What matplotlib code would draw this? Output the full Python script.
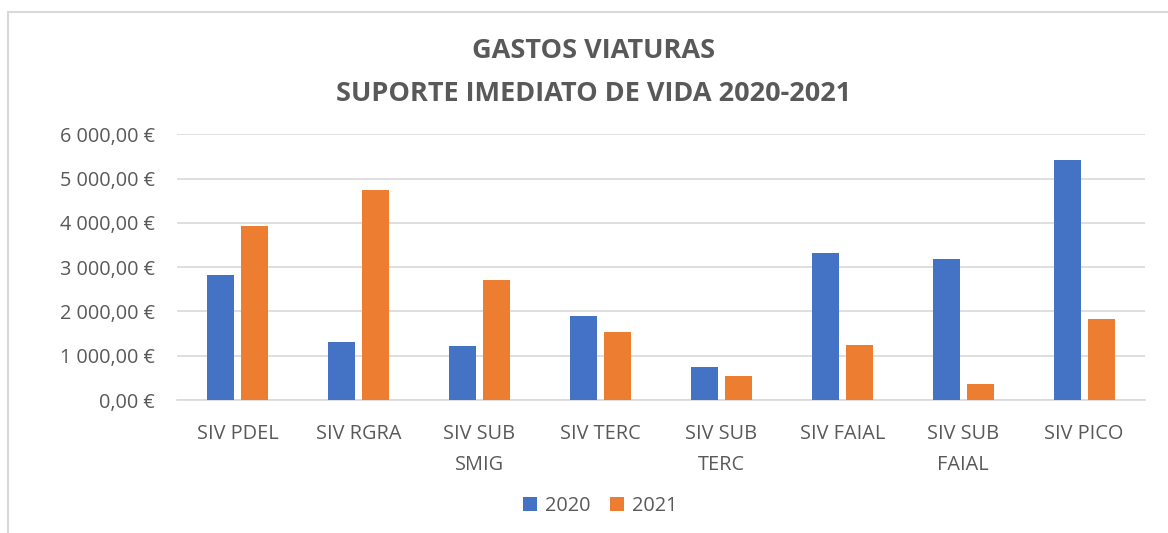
import numpy as np
import matplotlib.pyplot as plt
from matplotlib.patches import Rectangle
from matplotlib.ticker import FuncFormatter

plt.rcParams['font.family'] = ['Open Sans', 'DejaVu Sans']

# dados
categorias = ['SIV PDEL', 'SIV RGRA', 'SIV SUB\nSMIG', 'SIV TERC', 'SIV SUB\nTERC',
              'SIV FAIAL', 'SIV SUB\nFAIAL', 'SIV PICO']
gastos_2020 = [2820, 1300, 1210, 1890, 750, 3330, 3180, 5410]
gastos_2021 = [3940, 4740, 2720, 1530, 540, 1240, 355, 1820]
anos = ['2020', '2021']

azul = '#4472C4'
laranja = '#ED7D31'
cinza = '#595959'

fig = plt.figure(figsize=(11.68, 5.33), dpi=100)
ax = fig.add_axes([0.1515, 0.2495, 0.8285, 0.4985])

x = np.arange(len(categorias))
ax.bar(x - 0.14, gastos_2020, 0.223, color=azul, label=anos[0], zorder=3)
ax.bar(x + 0.14, gastos_2021, 0.223, color=laranja, label=anos[1], zorder=3)

ax.set_xlim(-0.5, len(categorias) - 0.5)
ax.set_ylim(0, 6000)
ax.set_yticks(np.arange(0, 6001, 1000))

def euro(v, pos):
    inteiro = f'{int(v):,}'.replace(',', ' ')
    return f'{inteiro},00 €'

ax.yaxis.set_major_formatter(FuncFormatter(euro))
ax.set_xticks(x)
ax.set_xticklabels(categorias, linespacing=1.75)
ax.grid(axis='y', color='#d9d9d9', linewidth=1.2, zorder=0)
for s in ['top', 'right', 'left']:
    ax.spines[s].set_visible(False)
ax.spines['bottom'].set_color('#d9d9d9')
ax.spines['bottom'].set_linewidth(1.2)
ax.tick_params(axis='both', length=0, colors=cinza, labelsize=14.3)
ax.tick_params(axis='x', pad=17)
ax.tick_params(axis='y', pad=16)

fig.text(0.508, 1 - 51 / 533, 'GASTOS VIATURAS', ha='center', va='center',
         fontsize=19.5, fontweight='bold', color=cinza)
fig.text(0.508, 1 - 94 / 533, 'SUPORTE IMEDIATO DE VIDA 2020-2021', ha='center', va='center',
         fontsize=19.5, fontweight='bold', color=cinza)

ax.legend(loc='center', bbox_to_anchor=(0.514, 0.05), bbox_transform=fig.transFigure,
          ncol=2, frameon=False, fontsize=14.3, handlelength=0.7, handleheight=0.7,
          columnspacing=1.0, handletextpad=0.4, labelcolor=cinza)

fig.patches.append(Rectangle((8 / 1168, -0.1), 1.2, 1 - 12 / 533 + 0.1,
                             transform=fig.transFigure, fill=False,
                             edgecolor='#d9d9d9', linewidth=1.5))

fig.savefig('out.png', dpi=100)
